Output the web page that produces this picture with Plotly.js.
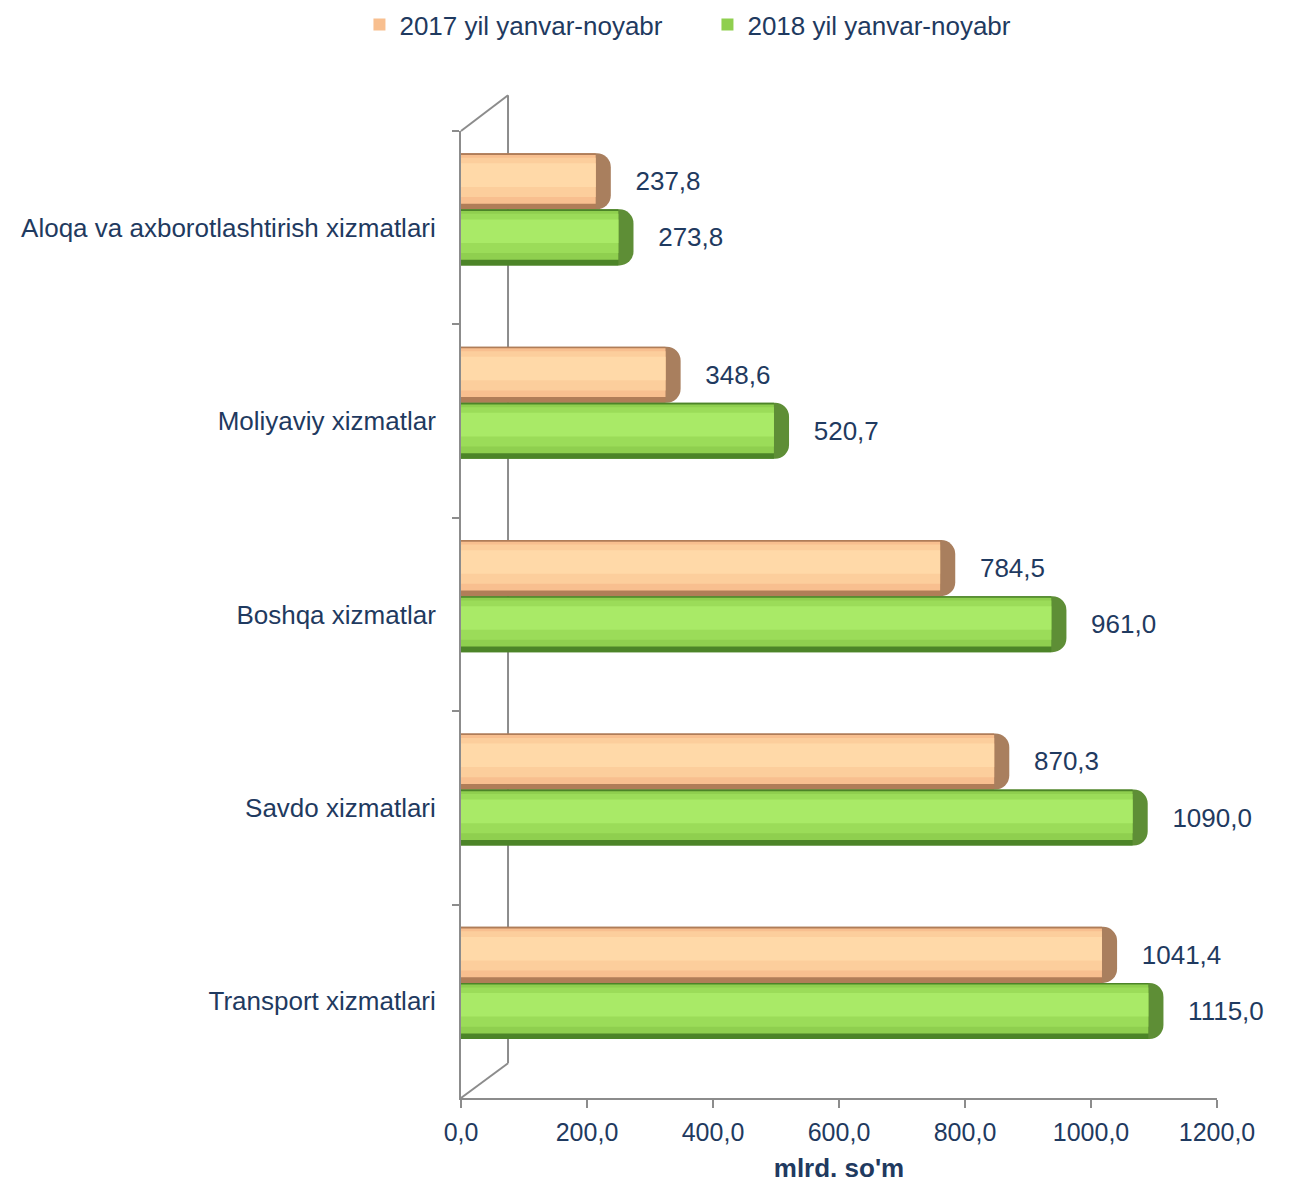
<!DOCTYPE html>
<html>
<head>
<meta charset="utf-8">
<script src="https://cdn.plot.ly/plotly-3.0.1.min.js"></script>
<style>
  html, body { margin: 0; padding: 0; background: #ffffff; }
  #chart { width: 1293px; height: 1183px; }
</style>
</head>
<body>
<div id="chart"></div>
<script>
// ---- data ----
const categories = [
  'Aloqa va axborotlashtirish xizmatlari',
  'Moliyaviy xizmatlar',
  'Boshqa xizmatlar',
  'Savdo xizmatlari',
  'Transport xizmatlari'
];
const values2017 = [237.8, 348.6, 784.5, 870.3, 1041.4];
const values2018 = [273.8, 520.7, 961.0, 1090.0, 1115.0];
const seriesNames = ['2017 yil yanvar-noyabr', '2018 yil yanvar-noyabr'];
const xTickValues = [0, 200, 400, 600, 800, 1000, 1200];
const xTitle = "mlrd. so'm";

// ---- style ----
const navy = '#1F3A60';
const axisGrey = '#8C8C8C';
const FONT = '"Liberation Sans", Arial, sans-serif';

// shading layers [fromFrac, toFrac] of the bar thickness (top -> bottom)
const layerFracs = [[0, 1], [0.03, 0.90], [0.08, 0.78], [0.18, 0.60]];
const styles = [
  { band: [-0.385, -0.095], colors: ['#B07D58', '#F8BF8F', '#FCCE9C', '#FFD9A8'], cap: '#A97F5E' },
  { band: [-0.095, 0.195],  colors: ['#4C8428', '#8FCF4F', '#9BDC59', '#A9EA67'], cap: '#5E8E36' }
];
const capLen = 24;

function seriesTraces(vals, name, st) {
  const top = st.band[0], h = st.band[1] - st.band[0];
  const traces = [];
  // dark rounded end cap: full-length bar drawn underneath the shaded body
  traces.push({
    type: 'bar', orientation: 'h',
    y: categories, x: vals,
    offset: top, width: h,
    marker: { color: st.cap, cornerradius: 14, line: { width: 0 } },
    name: name, showlegend: false, legendgroup: name,
    hoverinfo: 'x+name',
    texttemplate: '\u00a0\u00a0\u00a0%{x:.1f}',
    textposition: 'outside',
    textfont: { family: FONT, size: 26, color: navy },
    constraintext: 'none',
    cliponaxis: false
  });
  const bodyLen = vals.map(v => v - capLen);
  layerFracs.forEach((fr, i) => {
    traces.push({
      type: 'bar', orientation: 'h',
      y: categories, x: bodyLen,
      offset: top + fr[0] * h,
      width: (fr[1] - fr[0]) * h,
      marker: { color: st.colors[i], line: { width: 0 } },
      name: name,
      showlegend: i === 1,
      legendgroup: name,
      hoverinfo: 'skip',
      textposition: 'none',
      cliponaxis: false
    });
  });
  return traces;
}

const data = [].concat(
  seriesTraces(values2017, seriesNames[0], styles[0]),
  seriesTraces(values2018, seriesNames[1], styles[1])
);

const wallX = 0.0622, wallTop = 1.037, wallBot = 0.036;
const lineStyle = { color: axisGrey, width: 2 };

const layout = {
  width: 1293, height: 1183,
  margin: { l: 461, r: 76, t: 131, b: 85 },
  paper_bgcolor: '#ffffff', plot_bgcolor: 'rgba(0,0,0,0)',
  font: { family: FONT, size: 26, color: navy },
  separators: ', ',
  barmode: 'overlay',
  showlegend: true,
  legend: {
    orientation: 'h',
    xref: 'container', yref: 'container',
    x: 0.278, xanchor: 'left',
    y: 0.999, yanchor: 'top',
    font: { family: FONT, size: 26, color: navy },
    traceorder: 'normal',
    itemwidth: 30,
    entrywidth: 303, entrywidthmode: 'pixels'
  },
  xaxis: {
    range: [0, 1200],
    tickvals: xTickValues,
    tickformat: '.1f',
    ticks: 'outside', ticklen: 8, tickwidth: 2, tickcolor: axisGrey,
    showline: true, linecolor: axisGrey, linewidth: 2,
    showgrid: false, zeroline: false,
    tickfont: { family: FONT, size: 25, color: navy },
    ticklabelstandoff: 3,
    title: { text: xTitle, font: { family: FONT, size: 26, color: navy, weight: 'bold' }, standoff: 22 },
    fixedrange: true
  },
  yaxis: {
    type: 'category',
    categoryorder: 'array', categoryarray: categories,
    autorange: 'reversed',
    tickson: 'boundaries',
    ticks: 'outside', ticklen: 7, tickwidth: 2, tickcolor: axisGrey,
    showline: true, linecolor: axisGrey, linewidth: 2,
    showgrid: false, zeroline: false,
    tickfont: { family: FONT, size: 26, color: navy },
    ticklabelstandoff: 18,
    fixedrange: true
  },
  shapes: [
    { type: 'line', xref: 'paper', yref: 'paper', x0: 0, y0: 1, x1: wallX, y1: wallTop, line: lineStyle, layer: 'below' },
    { type: 'line', xref: 'paper', yref: 'paper', x0: wallX, y0: wallTop, x1: wallX, y1: wallBot, line: lineStyle, layer: 'below' },
    { type: 'line', xref: 'paper', yref: 'paper', x0: wallX, y0: wallBot, x1: 0, y1: 0, line: lineStyle, layer: 'below' }
  ]
};

Plotly.newPlot('chart', data, layout, { displayModeBar: false, staticPlot: true });
</script>
</body>
</html>
